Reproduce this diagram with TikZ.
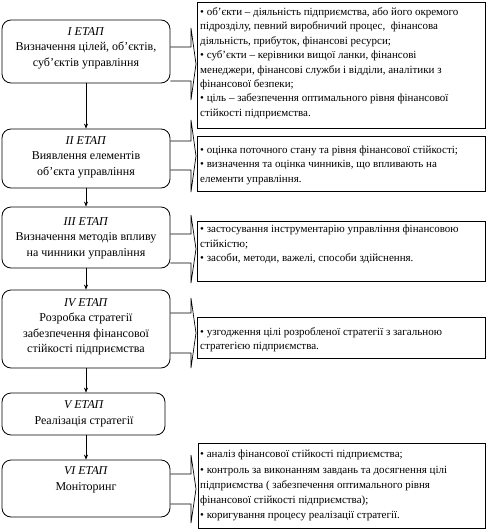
\documentclass[tikz,border=0pt]{standalone}
\usepackage{fontspec}
\setmainfont{Liberation Serif}
\usetikzlibrary{arrows.meta}
\begin{document}
\begin{tikzpicture}[x=1pt,y=-1pt,
  stagebox/.style={draw, rounded corners=9pt, line width=0.8pt, inner sep=0pt},
  infobox/.style={draw, line width=0.8pt, inner sep=0pt},
  stagetext/.style={align=center, font=\fontsize{12}{15.5}\selectfont, inner sep=0pt},
  infotext/.style={align=left, anchor=north west, font=\fontsize{11}{14.4}\selectfont, inner sep=0pt},
  flow/.style={line width=0.7pt, -{Stealth[length=5pt,width=4pt]}},
  blockarrow/.style={line width=0.7pt, line join=miter}
]
\useasboundingbox (0,0) rectangle (487,530);
\fill[white] (0,0) rectangle (487,530);

% stage boxes
\node[stagebox, minimum width=168pt, minimum height=63pt] (L1) at (86,51.5) {};
\node[stagebox, minimum width=168pt, minimum height=59pt] (L2) at (86,158.5) {};
\node[stagebox, minimum width=168pt, minimum height=61pt] (L3) at (86,237.5) {};
\node[stagebox, minimum width=168pt, minimum height=78pt] (L4) at (86,329) {};
\node[stagebox, minimum width=163pt, minimum height=42pt] (L5) at (83.5,414) {};
\node[stagebox, minimum width=168pt, minimum height=57pt] (L6) at (86,488.5) {};

\node[stagetext] (T1) at (86,48) {\textit{I ЕТАП}\\Визначення цілей, об’єктів,\\суб’єктів управління};
\node[stagetext] (T2) at (86,157) {\textit{II ЕТАП}\\Виявлення елементів\\об’єкта управління};
\node[stagetext] (T3) at (86,238) {\textit{III ЕТАП}\\Визначення методів впливу\\на чинники управління};
\node[stagetext] (T4) at (86,327) {\textit{IV ЕТАП}\\Розробка стратегії\\забезпечення фінансової\\стійкості підприємства};
\node[stagetext] (T5) at (84,414) {\textit{V ЕТАП}\\Реалізація стратегії};
\node[stagetext] (T6) at (86,480) {\textit{VI ЕТАП}\\Моніторинг};

% flow arrows
\draw[flow] (L1.south) -- (L2.north);
\draw[flow] (L2.south) -- (L3.north);
\draw[flow] (L3.south) -- (L4.north);
\draw[flow] (L4.south) -- (L4.south |- L5.north);
\draw[flow] (L4.south |- L5.south) -- (L4.south |- L6.north);

% info boxes
\node[infobox, minimum width=288pt, minimum height=126pt] (R1) at (341,65) {};
\node[infobox, minimum width=288pt, minimum height=55pt] (R2) at (341,163.5) {};
\node[infobox, minimum width=288pt, minimum height=60pt] (R3) at (341,251) {};
\node[infobox, minimum width=288pt, minimum height=41pt] (R4) at (341,337.5) {};
\node[infobox, minimum width=287pt, minimum height=85pt] (R6) at (341.5,485.5) {};

\node[infotext] (I1) at (200,7.5) {• об’єкти – діяльність підприємства, або його окремого\\підрозділу, певний виробничий процес,~ фінансова\\діяльність, прибуток, фінансові ресурси;\\• суб’єкти – керівники вищої ланки, фінансові\\менеджери, фінансові служби і відділи, аналітики з\\фінансової безпеки;\\• ціль – забезпечення оптимального рівня фінансової\\стійкості підприємства.};
\node[infotext] (I2) at (200,145.5) {• оцінка поточного стану та рівня фінансової стійкості;\\• визначення та оцінка чинників, що впливають на\\елементи управління.};
\node[infotext] (I3) at (200,225) {• застосування інструментарію управління фінансовою\\стійкістю;\\• засоби, методи, важелі, способи здійснення.};
\node[infotext] (I4) at (200,327.5) {• узгодження цілі розробленої стратегії з загальною\\стратегією підприємства.};
\node[infotext, font=\fontsize{11}{15.2}\selectfont] (I6) at (200,450) {• аналіз фінансової стійкості підприємства;\\• контроль за виконанням завдань та досягнення цілі\\підприємства ( забезпечення оптимального рівня\\фінансової стійкості підприємства);\\• коригування процесу реалізації стратегії.};

% block arrows
\draw[blockarrow] (L1.east |- 0,47) -- (191,47) -- (191,28) -- (196,64) -- (191,100) -- (191,81) -- (L1.east |- 0,81);
\draw[blockarrow] (L2.east |- 0,141) -- (191,141) -- (191,120) -- (196,156) -- (191,192) -- (191,170) -- (L2.east |- 0,170);
\draw[blockarrow] (L3.east |- 0,234) -- (191,234) -- (191,215) -- (196,249) -- (191,283) -- (191,263) -- (L3.east |- 0,263);
\draw[blockarrow] (L4.east |- 0,313) -- (191,313) -- (191,298) -- (196,333) -- (191,368) -- (191,353) -- (L4.east |- 0,353);
\draw[blockarrow] (L6.east |- 0,474) -- (191,474) -- (191,455) -- (196,489) -- (191,523) -- (191,504) -- (L6.east |- 0,504);
\end{tikzpicture}
\end{document}
